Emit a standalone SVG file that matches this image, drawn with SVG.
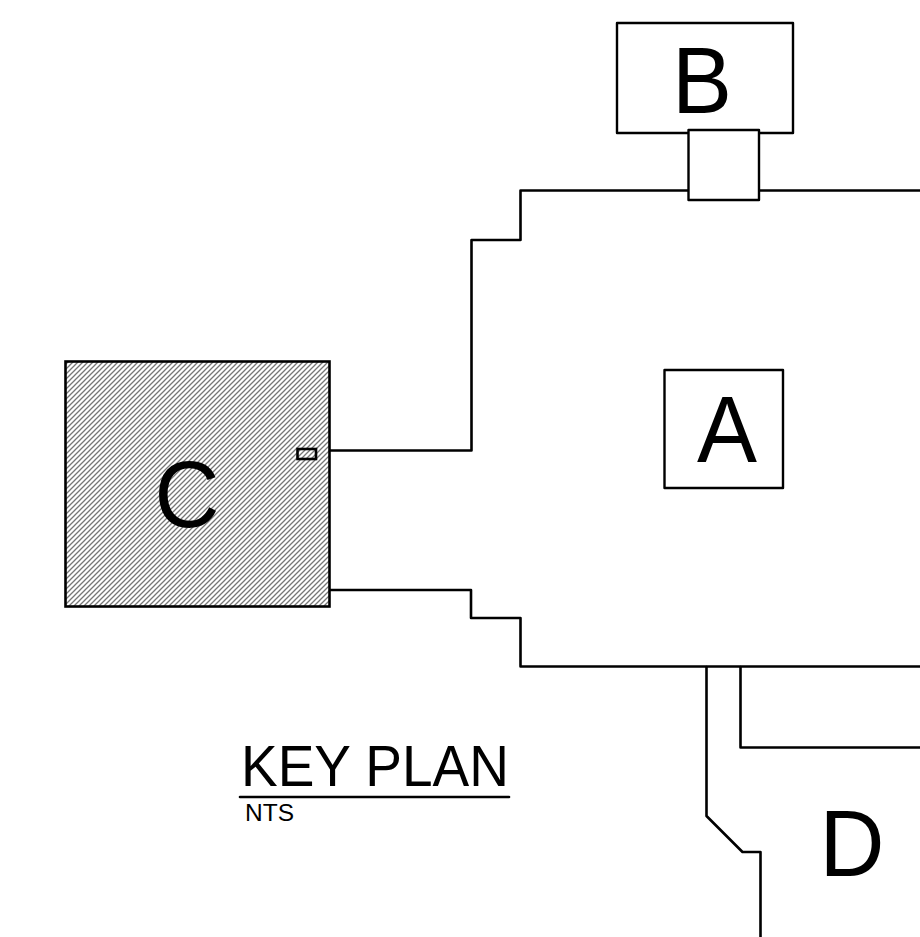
<svg xmlns="http://www.w3.org/2000/svg" width="920" height="937" viewBox="0 0 920 937">
<style>
.l{fill:none;stroke:#000;stroke-width:2.6;stroke-linejoin:round;stroke-linecap:round}
.b{fill:#fff;stroke:#000;stroke-width:2.4;stroke-linejoin:round}
text{font-family:"Liberation Sans",Arial,sans-serif;fill:#000}
.big{font-size:94px;text-anchor:middle}
</style>
<defs>
<pattern id="h" width="5" height="5" patternUnits="userSpaceOnUse">
<rect width="5" height="5" fill="#fff"/>
<path d="M-1 1L1 -1M0 5L5 0M4 6L6 4" stroke="#777" stroke-width="1.3"/>
</pattern>
</defs>
<rect width="920" height="937" fill="#fff"/>
<g id="connectors">
<path class="l" d="M920 190.500H520.500V240H471.500V450.500H330"/>
<path class="l" d="M330 590H471V618H520.500V666.500H920"/>
<path class="l" d="M706.500 667V816L742.500 852H760.500V937"/>
<path class="l" d="M740.500 667V747.500H920"/>
<path class="l" d="M240 797H509"/>
</g>
<g id="node-b">
<rect class="b" x="617" y="23" width="176" height="110"/>
<rect class="b" x="688.500" y="130" width="70.500" height="70"/>
<text class="big" x="702" y="113" textLength="60" lengthAdjust="spacingAndGlyphs">B</text>
</g>
<g id="node-a">
<rect class="b" x="664.500" y="370" width="118.500" height="118"/>
<text class="big" x="727" y="462" textLength="60" lengthAdjust="spacingAndGlyphs">A</text>
</g>
<g id="node-c">
<rect x="65.500" y="361.500" width="264" height="245" fill="url(#h)" stroke="#000" stroke-width="2.6"/>
<rect x="297.500" y="449" width="18.500" height="10" fill="url(#h)" stroke="#000" stroke-width="2.6"/>
<text class="big" x="187" y="527" textLength="65" lengthAdjust="spacingAndGlyphs">C</text>
</g>
<g id="node-d">
<text class="big" x="852" y="876" textLength="65" lengthAdjust="spacingAndGlyphs">D</text>
</g>
<g id="title">
<text x="241" y="786" font-size="57" textLength="268" lengthAdjust="spacingAndGlyphs">KEY PLAN</text>
<text x="245" y="821" font-size="23" textLength="49" lengthAdjust="spacingAndGlyphs">NTS</text>
</g>
</svg>
